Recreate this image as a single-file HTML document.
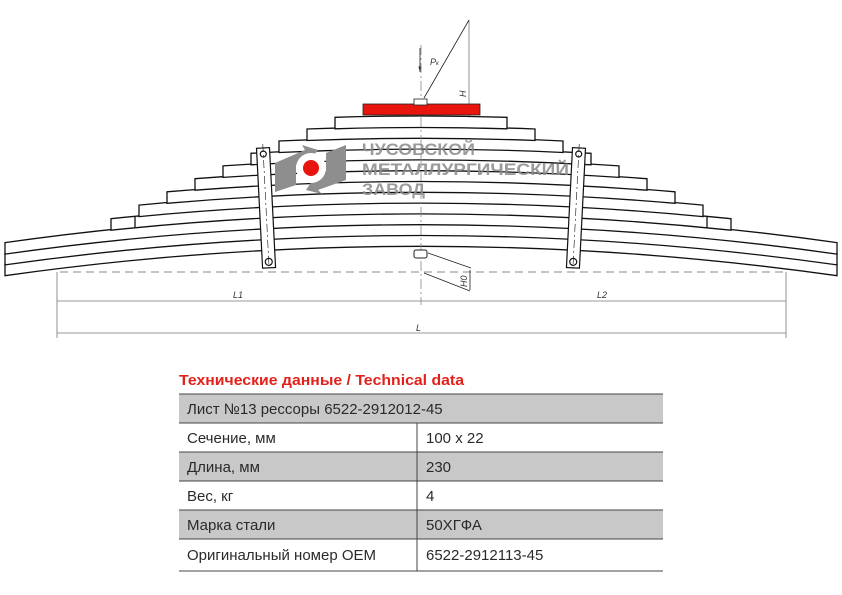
<!DOCTYPE html>
<html><head><meta charset="utf-8"><style>
body{margin:0;background:#fff;width:842px;height:595px;overflow:hidden;font-family:"Liberation Sans",sans-serif}
svg{position:absolute;left:0;top:0}
</style></head><body>
<svg width="842" height="595" viewBox="0 0 842 595">
<defs><marker id="a" markerWidth="8" markerHeight="8" refX="7" refY="4" orient="auto"><path d="M0,2 L7,4 L0,6Z" fill="#222"/></marker></defs>
<g stroke="#777" stroke-width="0.8" fill="none">
<line x1="60" y1="272" x2="785" y2="272" stroke-dasharray="8,5" stroke="#888" stroke-width="1"/>
<line x1="57" y1="272" x2="57" y2="338"/>
<line x1="786" y1="272" x2="786" y2="338"/>
<line x1="57" y1="301" x2="786" y2="301"/>
<line x1="57" y1="333" x2="786" y2="333"/>
<line x1="469" y1="20" x2="469" y2="135"/>
</g>
<g stroke="#222" stroke-width="0.8" fill="none">
<line x1="424" y1="98" x2="469" y2="20"/>
<line x1="420" y1="48" x2="420" y2="72" marker-end="url(#a)"/>
<line x1="428" y1="253" x2="471" y2="268"/>
<line x1="424" y1="273" x2="470" y2="291"/>
<line x1="470" y1="270" x2="470" y2="290"/>
</g>
<g font-family="Liberation Sans" font-style="italic" font-size="9" fill="#333">
<text x="430" y="65">P<tspan font-size="6">к</tspan></text>
<text transform="translate(466,97) rotate(-90)">H</text>
<text transform="translate(467,287) rotate(-90)">H0</text>
<text x="233" y="298">L1</text>
<text x="597" y="298">L2</text>
<text x="416" y="331">L</text>
</g>
<g fill="#fff" stroke="#111" stroke-width="1.3">
<path d="M5,264.2 Q421,205.4 837,264.2 L837,275.7 Q421,216.9 5,275.7Z"/>
<path d="M5,253.4 Q421,194.6 837,253.4 L837,264.9 Q421,206.1 5,264.9Z"/>
<path d="M5,242.6 Q421,183.8 837,242.6 L837,254.1 Q421,195.3 5,254.1Z"/>
<path d="M111,218.7 Q421,186.1 731,218.7 L731,230.2 Q421,197.6 111,230.2Z"/>
<path d="M139,205.1 Q421,178.1 703,205.1 L703,216.6 Q421,189.6 139,216.6Z"/>
<path d="M167,191.8 Q421,169.8 675,191.8 L675,203.3 Q421,181.3 167,203.3Z"/>
<path d="M195,178.7 Q421,161.3 647,178.7 L647,190.2 Q421,172.8 195,190.2Z"/>
<path d="M223,165.9 Q421,152.5 619,165.9 L619,177.4 Q421,164 223,177.4Z"/>
<path d="M251,153.3 Q421,143.5 591,153.3 L591,164.8 Q421,155 251,164.8Z"/>
<path d="M279,141 Q421,134.2 563,141 L563,152.5 Q421,145.7 279,152.5Z"/>
<path d="M307,129 Q421,124.6 535,129 L535,140.5 Q421,136.1 307,140.5Z"/>
<path d="M335,117.3 Q421,114.7 507,117.3 L507,128.8 Q421,126.2 335,128.8Z"/>
<line x1="135" y1="216" x2="135" y2="228"/>
<line x1="707" y1="216" x2="707" y2="228"/>
</g>
<line x1="421" y1="45" x2="421" y2="305" stroke="#888" stroke-width="0.8" stroke-dasharray="10,3,2,3"/>
<rect x="363" y="104" width="117" height="11" fill="#e8140e" stroke="#222" stroke-width="0.8"/>
<rect x="414" y="99" width="13" height="6" fill="#fff" stroke="#222" stroke-width="0.8"/>
<rect x="414" y="250" width="13" height="8" rx="2" fill="#fff" stroke="#222" stroke-width="1"/>
<g fill="#fff" stroke="#111" stroke-width="1.2">
<g transform="translate(263,148) rotate(-2.9)"><rect x="-6.5" y="0" width="13" height="120"/><circle cx="0" cy="6" r="3"/><circle cx="0" cy="114" r="3.5"/><line x1="0" y1="-4" x2="0" y2="120" stroke-dasharray="8,3,2,3" stroke-width="0.6"/></g>
<g transform="translate(579,148) rotate(2.9)"><rect x="-6.5" y="0" width="13" height="120"/><circle cx="0" cy="6" r="3"/><circle cx="0" cy="114" r="3.5"/><line x1="0" y1="-4" x2="0" y2="120" stroke-dasharray="8,3,2,3" stroke-width="0.6"/></g>
</g>
<g fill="#8e8e8e">
<polygon points="275,163 305,150 302,145 318,150 310,160 296,165 296,185 275,192"/>
<polygon points="346,145 346,180 318,190 322,194 306,190 314,178 326,172 326,153"/>
</g>
<circle cx="311" cy="168" r="15" fill="#fff"/>
<circle cx="311" cy="168" r="8" fill="#e8140e"/>
<g font-family="Liberation Sans" font-weight="bold" font-size="17" fill="#8a8a8a" opacity="0.85">
<text x="362" y="155" textLength="113" lengthAdjust="spacingAndGlyphs">ЧУСОВСКОЙ</text>
<text x="362" y="175" textLength="207" lengthAdjust="spacingAndGlyphs">МЕТАЛЛУРГИЧЕСКИЙ</text>
<text x="362" y="195" textLength="63" lengthAdjust="spacingAndGlyphs">ЗАВОД</text>
</g>
<text x="179" y="385" font-family="Liberation Sans" font-weight="bold" font-size="15" fill="#e3211b" textLength="285" lengthAdjust="spacingAndGlyphs">Технические данные / Technical data</text>
<g fill="#c8c8c8">
<rect x="179" y="394" width="484" height="29"/>
<rect x="179" y="452" width="484" height="29"/>
<rect x="179" y="510" width="484" height="29"/>
</g>
<g stroke="#444" stroke-width="1">
<line x1="179" y1="394" x2="663" y2="394"/>
<line x1="179" y1="423" x2="663" y2="423"/>
<line x1="179" y1="452" x2="663" y2="452"/>
<line x1="179" y1="481" x2="663" y2="481"/>
<line x1="179" y1="510" x2="663" y2="510"/>
<line x1="179" y1="539" x2="663" y2="539"/>
<line x1="179" y1="571" x2="663" y2="571"/>
<line x1="417" y1="423" x2="417" y2="571"/>
</g>
<g font-family="Liberation Sans" font-size="15" fill="#2a2a2a">
<text x="187" y="414">Лист №13 рессоры 6522-2912012-45</text>
<text x="187" y="443">Сечение, мм</text><text x="426" y="443">100 x 22</text>
<text x="187" y="472">Длина, мм</text><text x="426" y="472">230</text>
<text x="187" y="501">Вес, кг</text><text x="426" y="501">4</text>
<text x="187" y="530">Марка стали</text><text x="426" y="530">50ХГФА</text>
<text x="187" y="560">Оригинальный номер OEM</text><text x="426" y="560">6522-2912113-45</text>
</g>
</svg>
</body></html>
